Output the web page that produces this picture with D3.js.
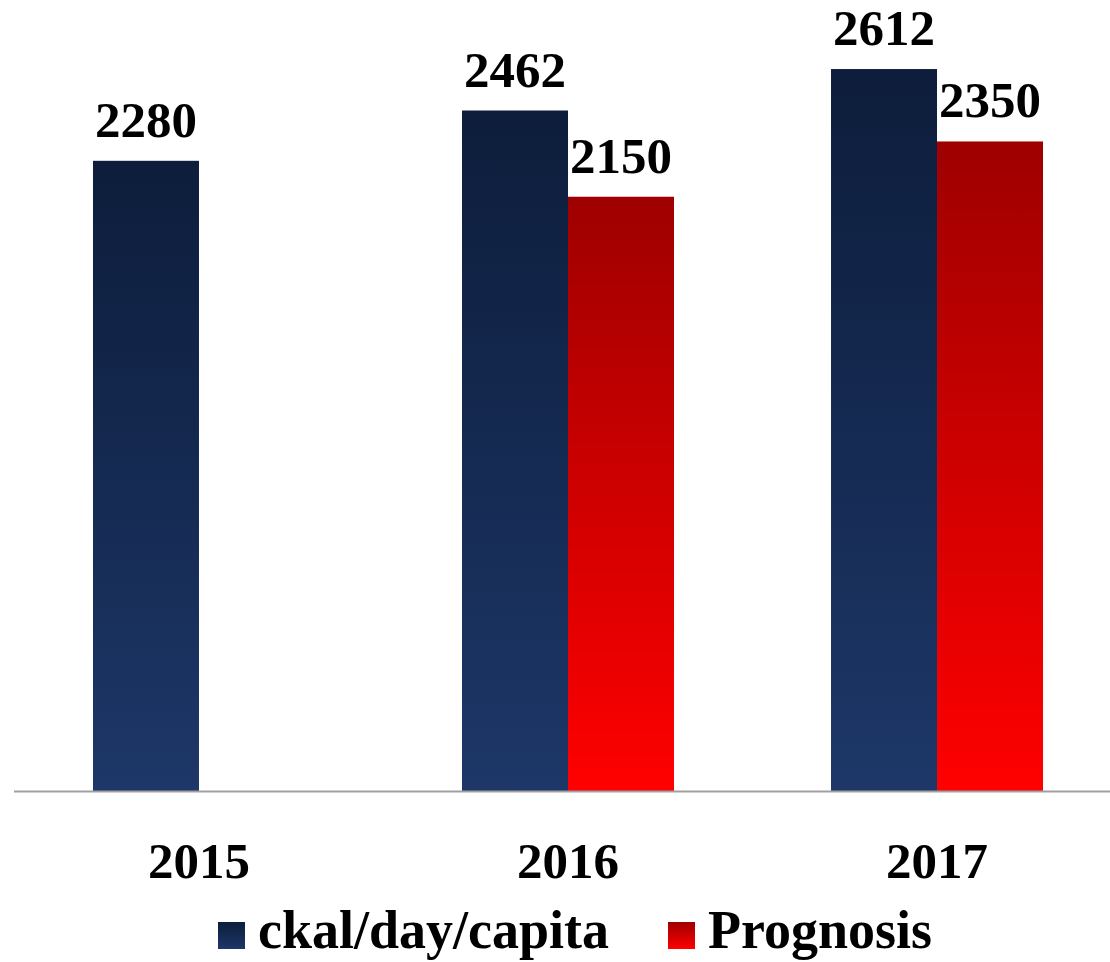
<!DOCTYPE html>
<html>
<head>
<meta charset="utf-8">
<script src="https://cdn.jsdelivr.net/npm/d3@7"></script>
<style>
  body { margin: 0; background: #fff; }
  text { font-family: "Liberation Serif", "DejaVu Serif", serif; font-weight: bold; fill: #000; }
</style>
</head>
<body>
<div id="chart"></div>
<script>
// chart values
var years = ["2015", "2016", "2017"];
var seriesNames = ["ckal/day/capita", "Prognosis"];
var actualValues = [2280, 2462, 2612];
var prognosisValues = [null, 2150, 2350];

var width = 1110, height = 962;
var baseY = 791;

var svg = d3.select("#chart").append("svg")
    .attr("width", width)
    .attr("height", height);

// gradients for the two series
var defs = svg.append("defs");
var blueGrad = defs.append("linearGradient")
    .attr("id", "gradBlue").attr("x1", 0).attr("y1", 0).attr("x2", 0).attr("y2", 1);
blueGrad.append("stop").attr("offset", "0%").attr("stop-color", "#0d1d3b");
blueGrad.append("stop").attr("offset", "100%").attr("stop-color", "#1d3768");
var redGrad = defs.append("linearGradient")
    .attr("id", "gradRed").attr("x1", 0).attr("y1", 0).attr("x2", 0).attr("y2", 1);
redGrad.append("stop").attr("offset", "0%").attr("stop-color", "#9e0000");
redGrad.append("stop").attr("offset", "100%").attr("stop-color", "#ff0000");
var fills = ["url(#gradBlue)", "url(#gradRed)"];

// scales
var x0 = d3.scaleBand()
    .domain(years)
    .range([14.5, 1121.5])
    .paddingInner(0.4255)
    .paddingOuter(0.2127);

var x1 = d3.scaleBand()
    .domain(seriesNames)
    .range([0, x0.bandwidth()]);

var y = d3.scaleLinear()
    .domain([0, 2800])
    .range([baseY, baseY - 2800 * 0.2764]);

// rows
var rows = years.map(function(yr, i) {
    return [
        { year: yr, series: seriesNames[0], value: actualValues[i], s: 0 },
        { year: yr, series: seriesNames[1], value: prognosisValues[i], s: 1 }
    ].filter(function(d) { return d.value != null; });
});
var flat = [].concat.apply([], rows);

var bars = svg.append("g").selectAll("rect")
    .data(flat)
    .enter().append("rect")
    .attr("x", function(d) { return x0(d.year) + x1(d.series); })
    .attr("y", function(d) { return y(d.value); })
    .attr("width", x1.bandwidth())
    .attr("height", function(d) { return baseY - y(d.value); })
    .attr("fill", function(d) { return fills[d.s]; });

// value labels
svg.append("g").selectAll("text")
    .data(flat)
    .enter().append("text")
    .attr("x", function(d) { return x0(d.year) + x1(d.series) + x1.bandwidth() / 2; })
    .attr("y", function(d) { return y(d.value) - 24; })
    .attr("text-anchor", "middle")
    .style("font-size", "51px")
    .text(function(d) { return d.value; });

// axis
var xAxis = d3.axisBottom(x0).tickSize(0).tickPadding(0);
var axisG = svg.append("g")
    .attr("transform", "translate(0," + baseY + ")")
    .call(xAxis);
axisG.select(".domain")
    .attr("d", "M14,0.5H1110")
    .attr("stroke", "#a0a0a0")
    .attr("stroke-width", 2);
axisG.selectAll(".tick text")
    .attr("y", 87)
    .attr("dy", null)
    .attr("fill", "#000")
    .style("font-family", "'Liberation Serif', serif")
    .style("font-weight", "bold")
    .style("font-size", "51px");

// legend
var legend = svg.append("g");
var items = legend.selectAll("g")
    .data(seriesNames)
    .enter().append("g");
items.append("rect")
    .attr("width", 27).attr("height", 27)
    .attr("y", 922)
    .attr("fill", function(d, i) { return fills[i]; });
items.append("text")
    .attr("y", 948)
    .style("font-size", "54px")
    .text(function(d) { return d; });

var legendX = [218, 668];
items.each(function(d, i) {
    var g = d3.select(this);
    g.select("rect").attr("x", legendX[i]);
    g.select("text").attr("x", legendX[i] + 40);
});
</script>
</body>
</html>
